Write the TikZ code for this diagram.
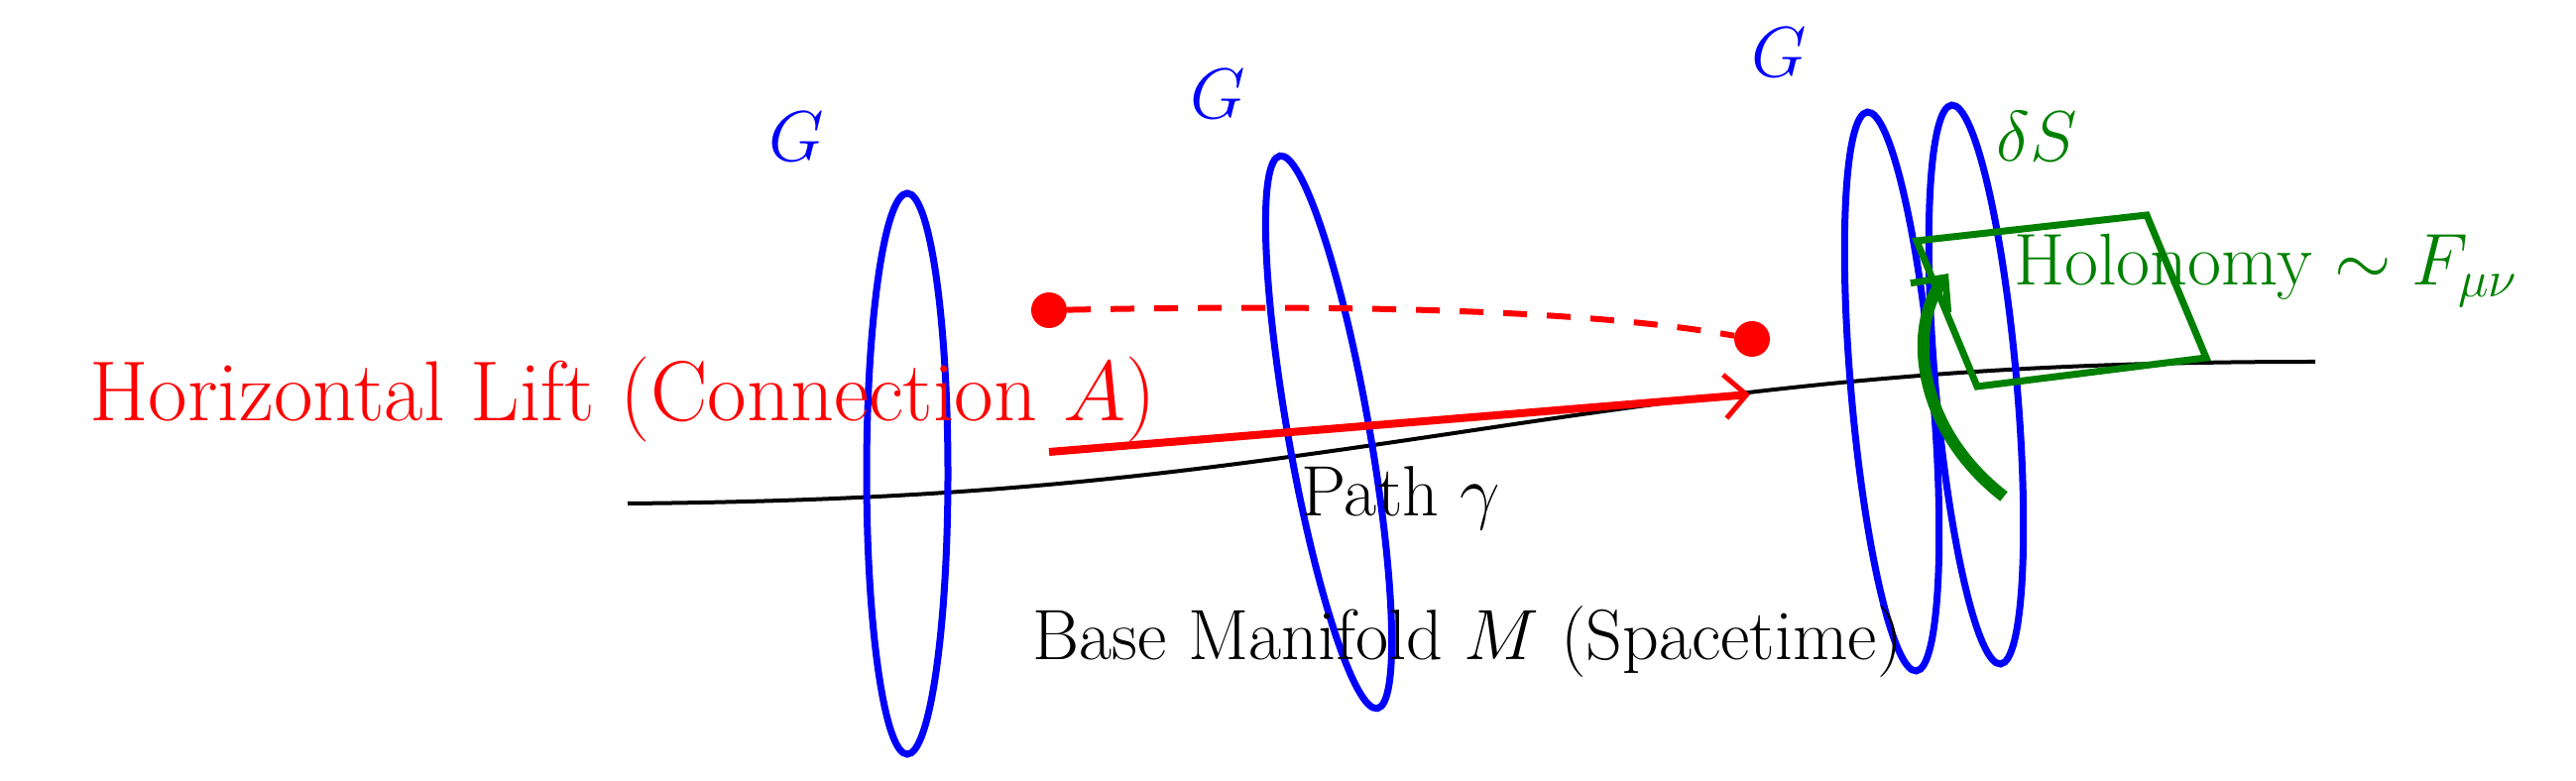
\RequirePackage{fix-cm}
\documentclass[tikz,border=0pt]{standalone}
\usetikzlibrary{shapes.geometric,arrows.meta}
\definecolor{dgreen}{rgb}{0,0.5,0}
\begin{document}
\begin{tikzpicture}[x=1pt,y=1pt,
  fiber/.style={draw=blue,line width=7pt,ellipse,inner sep=0pt,minimum width=82pt,minimum height=566pt},
  glab/.style={text=blue,font=\fontsize{72}{74}\selectfont},
  dot/.style={circle,fill=red,inner sep=0pt,minimum size=36pt},
  txt/.style={font=\fontsize{72}{74}\selectfont}]
\useasboundingbox (0,0) rectangle (2598,787);
\draw[line width=4pt] (633,279) .. controls (1000,282) and (1200,310) .. (1500,355)
  .. controls (1800,400) and (2000,422) .. (2335,422);
\node[fiber] (e1) at (915,309) {};
\node[fiber,rotate=10] (e2) at (1340,351) {};
\node[fiber,rotate=5] (ea) at (1908,392) {};
\node[fiber,rotate=5] (eb) at (1993,399) {};
\node[glab] (g1) at (803,649) {$G$};
\node[glab] (g2) at (1228,692) {$G$};
\node[glab] (g3) at (1794,734) {$G$};
\node[dot] (d1) at (1058,474) {};
\node[dot] (d2) at (1767,445) {};
\draw[red,line width=6pt,dash pattern=on 24pt off 20pt] (d1) .. controls (1350,480) and (1600,475) .. (d2);
\coordinate (as) at (1058,331);
\coordinate (ae) at (1765,389);
\draw[red,line width=8pt,-{Straight Barb[length=22pt,width=44pt,line width=5pt]}] (as) -- (ae);
\node[text=red,font=\fontsize{86}{90}\selectfont] (lift) at (628,384) {Horizontal Lift (Connection $A$)};
\node[txt] (path) at (1413,284) {Path $\gamma$};
\node[txt] (base) at (1480,139) {Base Manifold $M$ (Spacetime)};
\draw[dgreen,line width=7pt] (1933,544) -- (2165,570) -- (2225,426) -- (1994,397) -- cycle;
\coordinate (hs) at (2021,286);
\coordinate (he) at (1965,511);
\draw[dgreen,line width=12pt,-{Straight Barb[length=26pt,width=48pt,line width=7pt]}] (hs) .. controls (1930,357) and (1925,460) .. (he);
\node[text=dgreen,font=\fontsize{74}{76}\selectfont,anchor=base west,inner sep=0pt] (hol) at (2031,499) {Holonomy $\sim F_{\mu\nu}$};
\node[text=dgreen,font=\fontsize{72}{74}\selectfont,anchor=base west,inner sep=0pt] (ds) at (2013,624) {$\delta S$};
\end{tikzpicture}
\end{document}
